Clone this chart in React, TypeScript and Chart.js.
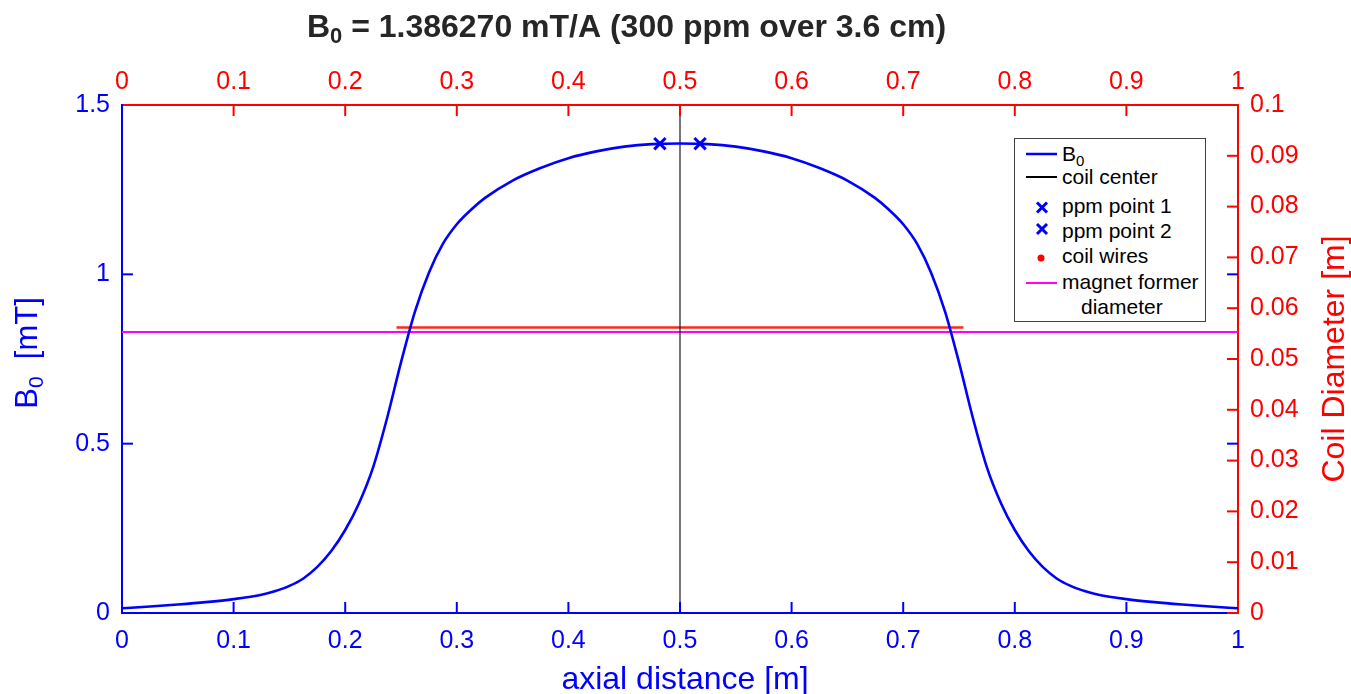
import React, { useEffect, useRef } from 'react';
import { Chart, registerables } from 'chart.js';

Chart.register(...registerables);

const BLUE = '#0000ff';
const RED = '#ff0000';
const MAGENTA = '#ff00ff';
const DARK = '#262626';
const FONT = "'Liberation Sans', Arial, Helvetica, sans-serif";

// axial positions [m] and field B0 [mT/A]
const axialPositions = [
  0, 0.025, 0.05, 0.075, 0.1, 0.125, 0.1375, 0.15, 0.1625, 0.175, 0.1875, 0.2, 0.2125, 0.225,
  0.2375, 0.25, 0.2625, 0.275, 0.2875, 0.3, 0.3125, 0.325, 0.35, 0.375, 0.4, 0.425, 0.45, 0.475,
  0.5,
  0.525, 0.55, 0.575, 0.6, 0.625, 0.65, 0.675, 0.6875, 0.7, 0.7125, 0.725, 0.7375, 0.75, 0.7625,
  0.775, 0.7875, 0.8, 0.8125, 0.825, 0.8375, 0.85, 0.8625, 0.875, 0.9, 0.925, 0.95, 0.975, 1,
];
const fieldValues = [
  0.014, 0.019, 0.025, 0.032, 0.041, 0.054, 0.065, 0.08, 0.102, 0.136, 0.183, 0.245, 0.325, 0.43,
  0.575, 0.74, 0.89, 1.005, 1.09, 1.148, 1.19, 1.225, 1.277, 1.314, 1.343, 1.363, 1.377, 1.3845,
  1.3863,
  1.3845, 1.377, 1.363, 1.343, 1.314, 1.277, 1.225, 1.19, 1.148, 1.09, 1.005, 0.89, 0.74, 0.575,
  0.43, 0.325, 0.245, 0.183, 0.136, 0.102, 0.08, 0.065, 0.054, 0.041, 0.032, 0.025, 0.019, 0.014,
];

const ppmPoint1 = { x: 0.482, y: 1.3858 };
const ppmPoint2 = { x: 0.518, y: 1.3858 };
const coilCenterX = 0.5;
const coilCenterRange = [0, 1.5];
const coilWireExtent = [0.246, 0.754];
const coilWireDiameter = 0.0562;
const formerExtent = [0, 1];
const formerDiameter = 0.0553;

const xTickStep = 0.1;
const yLeftTickStep = 0.5;
const yRightTickStep = 0.01;

const titleMain = 'B';
const titleSub = '0';
const titleRest = ' = 1.386270 mT/A (300 ppm over 3.6 cm)';
const xTitle = 'axial distance [m]';
const yLeftTitleMain = 'B';
const yLeftTitleSub = '0';
const yLeftTitleRest = '  [mT]';
const yRightTitle = 'Coil Diameter [m]';

const fmt = (v: any) => String(parseFloat(Number(v).toFixed(4)));

// draws "main + subscript + rest" on the baseline y=0 of the current transform
function drawSubText(ctx: any, main: string, sub: string, rest: string, size: number, weight: string, centerX: number) {
  const big = `${weight} ${size}px ${FONT}`;
  const small = `${weight} ${Math.round(size * 0.68)}px ${FONT}`;
  ctx.font = big;
  const w1 = ctx.measureText(main).width;
  const w3 = ctx.measureText(rest).width;
  ctx.font = small;
  const w2 = ctx.measureText(sub).width;
  const total = w1 + w2 + w3;
  let x = centerX - total / 2;
  ctx.textAlign = 'left';
  ctx.textBaseline = 'alphabetic';
  ctx.font = big;
  ctx.fillText(main, x, 0);
  x += w1;
  ctx.font = small;
  ctx.fillText(sub, x, size * 0.2);
  x += w2;
  ctx.font = big;
  ctx.fillText(rest, x, 0);
}

const decorations = {
  id: 'decorations',
  afterDatasetsDraw(chart: any) {
    const { ctx, chartArea: a, scales } = chart;
    const L = 11;
    ctx.save();
    ctx.lineWidth = 2;
    const seg = (x1: number, y1: number, x2: number, y2: number, c: string) => {
      ctx.strokeStyle = c;
      ctx.beginPath();
      ctx.moveTo(x1, y1);
      ctx.lineTo(x2, y2);
      ctx.stroke();
    };
    const inner = (s: any, t: any) => t.value > s.min + 1e-9 && t.value < s.max - 1e-9;
    scales.x.ticks.forEach((t: any) => {
      if (!inner(scales.x, t)) return;
      const p = scales.x.getPixelForValue(t.value);
      seg(p, a.bottom, p, a.bottom - L, BLUE);
    });
    scales.x2.ticks.forEach((t: any) => {
      if (!inner(scales.x2, t)) return;
      const p = scales.x2.getPixelForValue(t.value);
      seg(p, a.top, p, a.top + L, RED);
    });
    scales.y.ticks.forEach((t: any) => {
      if (!inner(scales.y, t)) return;
      const p = scales.y.getPixelForValue(t.value);
      seg(a.left, p, a.left + L, p, BLUE);
      seg(a.right, p, a.right - L, p, BLUE);
    });
    scales.y2.ticks.forEach((t: any) => {
      const p = scales.y2.getPixelForValue(t.value);
      seg(a.right, p, a.right - L, p, RED);
    });
    ctx.restore();
  },
  afterDraw(chart: any) {
    const { ctx, chartArea: a } = chart;
    const midY = (a.top + a.bottom) / 2;
    // chart title
    ctx.save();
    ctx.fillStyle = DARK;
    ctx.translate(0, 37);
    drawSubText(ctx, titleMain, titleSub, titleRest, 32, 'bold', 626.5);
    ctx.restore();
    // bottom axis title
    ctx.save();
    ctx.fillStyle = BLUE;
    ctx.font = `32px ${FONT}`;
    ctx.textAlign = 'center';
    ctx.textBaseline = 'alphabetic';
    ctx.fillText(xTitle, 685, 689);
    ctx.restore();
    // left axis title
    ctx.save();
    ctx.fillStyle = BLUE;
    ctx.translate(37, midY);
    ctx.rotate(-Math.PI / 2);
    drawSubText(ctx, yLeftTitleMain, yLeftTitleSub, yLeftTitleRest, 31, 'normal', 6);
    ctx.restore();
    // right axis title
    ctx.save();
    ctx.fillStyle = RED;
    ctx.translate(1344, midY);
    ctx.rotate(-Math.PI / 2);
    ctx.font = `32px ${FONT}`;
    ctx.textAlign = 'center';
    ctx.textBaseline = 'alphabetic';
    ctx.fillText(yRightTitle, 0, 0);
    ctx.restore();
  },
};

function App() {
  const ref = useRef<HTMLCanvasElement>(null);

  useEffect(() => {
    if (!ref.current) return;
    const tickFont = { family: FONT, size: 25 };
    const chart = new Chart(ref.current, {
      type: 'line',
      data: {
        datasets: [
          {
            label: 'B0',
            data: axialPositions.map((x, i) => ({ x, y: fieldValues[i] })),
            borderColor: BLUE,
            borderWidth: 2.6,
            pointRadius: 0,
            cubicInterpolationMode: 'monotone',
            xAxisID: 'x',
            yAxisID: 'y',
          },
          {
            label: 'coil center',
            data: coilCenterRange.map((y) => ({ x: coilCenterX, y })),
            borderColor: '#1a1a1a',
            borderWidth: 1.2,
            pointRadius: 0,
            xAxisID: 'x',
            yAxisID: 'y',
          },
          {
            label: 'ppm point 1',
            data: [ppmPoint1],
            showLine: false,
            pointStyle: 'crossRot',
            pointRadius: 8,
            borderWidth: 3,
            borderColor: BLUE,
            xAxisID: 'x',
            yAxisID: 'y',
          },
          {
            label: 'ppm point 2',
            data: [ppmPoint2],
            showLine: false,
            pointStyle: 'crossRot',
            pointRadius: 8,
            borderWidth: 3,
            borderColor: BLUE,
            xAxisID: 'x',
            yAxisID: 'y',
          },
          {
            label: 'coil wires',
            data: coilWireExtent.map((x) => ({ x, y: coilWireDiameter })),
            borderColor: '#ff2a1a',
            borderWidth: 2.5,
            pointRadius: 0,
            xAxisID: 'x',
            yAxisID: 'y2',
          },
          {
            label: 'magnet former diameter',
            data: formerExtent.map((x) => ({ x, y: formerDiameter })),
            borderColor: MAGENTA,
            borderWidth: 2,
            pointRadius: 0,
            xAxisID: 'x',
            yAxisID: 'y2',
          },
        ],
      },
      options: {
        animation: false,
        responsive: true,
        maintainAspectRatio: false,
        layout: { padding: { top: 50, left: 0, right: 0, bottom: 0 } },
        plugins: {
          legend: { display: false },
          title: { display: false },
          tooltip: { enabled: false },
        },
        scales: {
          x: {
            type: 'linear',
            position: 'bottom',
            min: 0,
            max: 1,
            ticks: { stepSize: xTickStep, color: BLUE, font: tickFont, padding: 13, maxRotation: 0, autoSkip: false, callback: fmt },
            grid: { display: false, drawTicks: false },
            border: { display: true, color: BLUE, width: 2 },
            afterFit: (s: any) => { s.height = 81; },
          },
          x2: {
            type: 'linear',
            position: 'top',
            min: 0,
            max: 1,
            ticks: { stepSize: xTickStep, color: RED, font: tickFont, padding: 8, maxRotation: 0, autoSkip: false, callback: fmt },
            grid: { display: false, drawTicks: false },
            border: { display: true, color: RED, width: 2 },
            afterFit: (s: any) => { s.height = 55; },
          },
          y: {
            type: 'linear',
            position: 'left',
            min: 0,
            max: 1.5,
            ticks: { stepSize: yLeftTickStep, color: BLUE, font: tickFont, padding: 12, callback: fmt },
            grid: { display: false, drawTicks: false },
            border: { display: true, color: BLUE, width: 2 },
            afterFit: (s: any) => { s.width = 122; },
          },
          y2: {
            type: 'linear',
            position: 'right',
            min: 0,
            max: 0.1,
            ticks: { stepSize: yRightTickStep, color: RED, font: tickFont, padding: 12, callback: fmt },
            grid: { display: false, drawTicks: false },
            border: { display: true, color: RED, width: 2 },
            afterFit: (s: any) => { s.width = 113; },
          },
        },
      } as any,
      plugins: [decorations],
    });
    return () => chart.destroy();
  }, []);

  const L0 = 1014;
  const T0 = 138;
  const text = (top: number, left: number) => ({
    position: 'absolute' as const,
    left,
    top: top - 12,
    fontFamily: FONT,
    fontSize: 21,
    lineHeight: '24px',
    color: '#000',
    whiteSpace: 'nowrap' as const,
  });

  return (
    <div style={{ position: 'absolute', left: 0, top: 0, width: 1351, height: 694, background: '#fff' }}>
      <canvas ref={ref} />
      <div
        style={{
          position: 'absolute',
          left: L0,
          top: T0,
          width: 192,
          height: 184,
          boxSizing: 'border-box',
          border: '1px solid #404040',
          background: '#fff',
        }}
      />
      <svg style={{ position: 'absolute', left: L0, top: T0 }} width={192} height={184}>
        <line x1={12} y1={16} x2={43} y2={16} stroke={BLUE} strokeWidth={2.5} />
        <line x1={12} y1={39} x2={43} y2={39} stroke="#000" strokeWidth={2} />
        <g stroke={BLUE} strokeWidth={3}>
          <line x1={23} y1={64.5} x2={33} y2={74.5} />
          <line x1={23} y1={74.5} x2={33} y2={64.5} />
          <line x1={23} y1={86} x2={33} y2={96} />
          <line x1={23} y1={96} x2={33} y2={86} />
        </g>
        <circle cx={27} cy={120} r={3.5} fill={RED} />
        <line x1={12} y1={145} x2={43} y2={145} stroke={MAGENTA} strokeWidth={2} />
      </svg>
      <span style={text(154, 1062)}>
        B<span style={{ fontSize: 15, position: 'relative', top: 5 }}>0</span>
      </span>
      <span style={text(177, 1062)}>coil center</span>
      <span style={text(206, 1062)}>ppm point 1</span>
      <span style={text(231, 1062)}>ppm point 2</span>
      <span style={text(256, 1062)}>coil wires</span>
      <span style={text(282, 1062)}>magnet former</span>
      <span style={text(307, 1081)}>diameter</span>
    </div>
  );
}

export default App;
